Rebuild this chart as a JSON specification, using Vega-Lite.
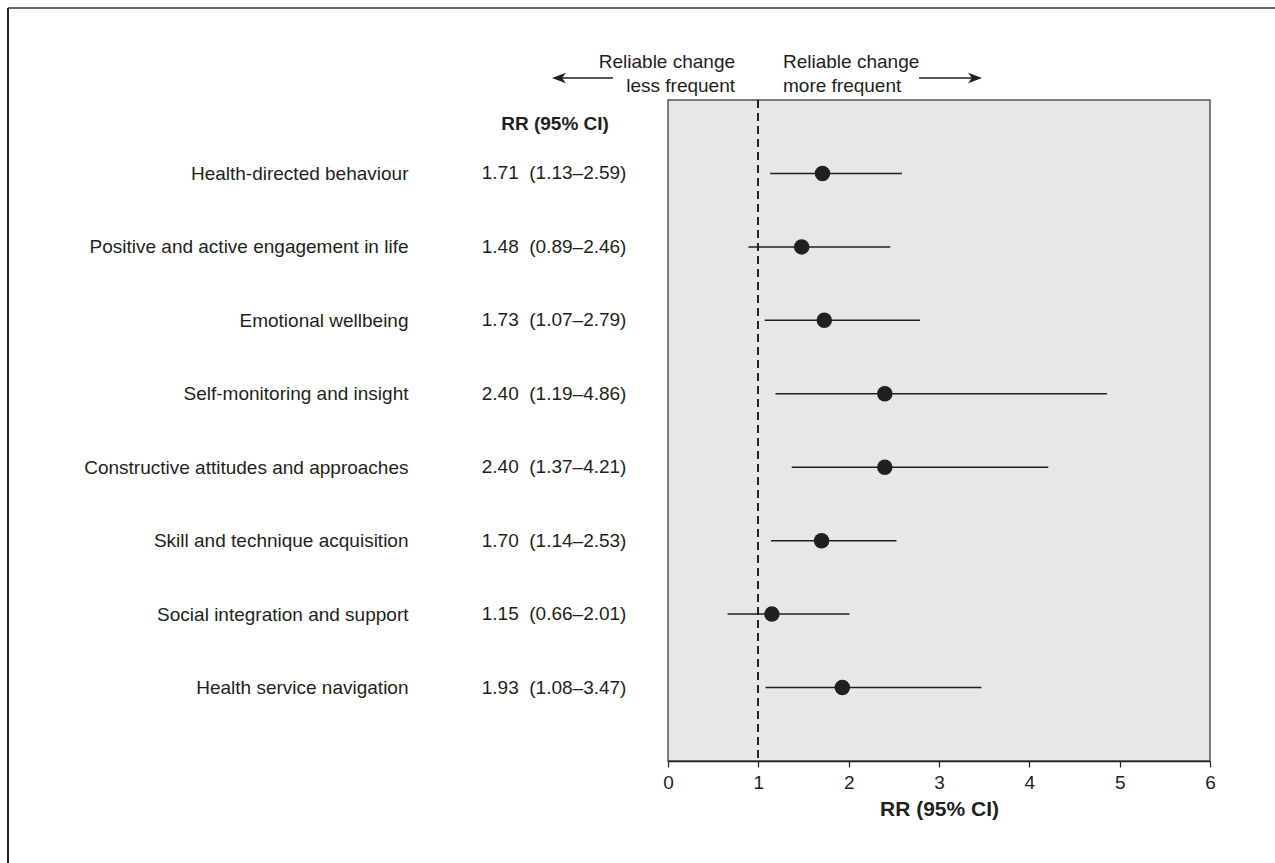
{
  "$schema": "https://vega.github.io/schema/vega-lite/v6.json",
  "autosize": "none",
  "padding": {"left": 668, "top": 100, "right": 65, "bottom": 102},
  "width": 542,
  "height": 661,
  "background": "white",
  "config": {
    "font": "Liberation Sans",
    "view": {"fill": "#e6e7e8", "stroke": "#555555", "strokeWidth": 1.5},
    "text": {"font": "Liberation Sans", "fontSize": 19, "color": "#231f20"}
  },
  "data": {
    "values": [
      {"name": "Health-directed behaviour", "rr": 1.71, "lo": 1.13, "hi": 2.59, "label": "1.71\u00a0\u00a0(1.13–2.59)"},
      {"name": "Positive and active engagement in life", "rr": 1.48, "lo": 0.89, "hi": 2.46, "label": "1.48\u00a0\u00a0(0.89–2.46)"},
      {"name": "Emotional wellbeing", "rr": 1.73, "lo": 1.07, "hi": 2.79, "label": "1.73\u00a0\u00a0(1.07–2.79)"},
      {"name": "Self-monitoring and insight", "rr": 2.40, "lo": 1.19, "hi": 4.86, "label": "2.40\u00a0\u00a0(1.19–4.86)"},
      {"name": "Constructive attitudes and approaches", "rr": 2.40, "lo": 1.37, "hi": 4.21, "label": "2.40\u00a0\u00a0(1.37–4.21)"},
      {"name": "Skill and technique acquisition", "rr": 1.70, "lo": 1.14, "hi": 2.53, "label": "1.70\u00a0\u00a0(1.14–2.53)"},
      {"name": "Social integration and support", "rr": 1.15, "lo": 0.66, "hi": 2.01, "label": "1.15\u00a0\u00a0(0.66–2.01)"},
      {"name": "Health service navigation", "rr": 1.93, "lo": 1.08, "hi": 3.47, "label": "1.93\u00a0\u00a0(1.08–3.47)"}
    ]
  },
  "layer": [
    {
      "mark": {"type": "rule", "color": "#231f20", "strokeWidth": 1.3, "strokeDash": [8, 5]},
      "encoding": {
        "x": {"datum": 1, "type": "quantitative", "scale": {"domain": [0, 6], "nice": false, "zero": false}}
      }
    },
    {
      "mark": {"type": "rule", "color": "#231f20", "strokeWidth": 1.5},
      "encoding": {
        "y": {"field": "name", "type": "nominal", "sort": null, "scale": {"type": "point", "padding": 1},
          "axis": {"title": null, "ticks": false, "domain": false, "labelPadding": 260, "labelFontSize": 19, "labelLimit": 500, "labelColor": "#231f20", "labelFont": "Liberation Sans"}},
        "x": {"field": "lo", "type": "quantitative", "scale": {"domain": [0, 6], "nice": false, "zero": false},
          "axis": {"values": [0, 1, 2, 3, 4, 5, 6], "format": "d", "labelFlush": false, "grid": false, "tickSize": 6, "tickColor": "#231f20", "domainColor": "#231f20", "domainWidth": 1.5, "tickWidth": 1.2, "labelFontSize": 19, "labelPadding": 6, "labelColor": "#231f20", "labelFont": "Liberation Sans", "title": "RR (95% CI)", "titleFontSize": 21, "titleFontWeight": "bold", "titleColor": "#231f20", "titleFont": "Liberation Sans", "titlePadding": 6}},
        "x2": {"field": "hi"}
      }
    },
    {
      "mark": {"type": "circle", "color": "#231f20", "opacity": 1, "size": 240},
      "encoding": {
        "y": {"field": "name", "type": "nominal", "sort": null},
        "x": {"field": "rr", "type": "quantitative"}
      }
    },
    {
      "mark": {"type": "text", "align": "right", "baseline": "middle"},
      "encoding": {
        "y": {"field": "name", "type": "nominal", "sort": null},
        "x": {"datum": -0.46, "type": "quantitative"},
        "text": {"field": "label"}
      }
    },
    {
      "data": {"values": [{"header": "RR (95% CI)"}]},
      "mark": {"type": "text", "align": "center", "baseline": "middle", "fontWeight": "bold"},
      "encoding": {
        "x": {"datum": -1.25, "type": "quantitative"},
        "y": {"value": 24},
        "text": {"field": "header"}
      }
    },
    {
      "data": {"values": [{"t": ["Reliable change", "less frequent"]}]},
      "mark": {"type": "text", "align": "right", "baseline": "alphabetic", "lineHeight": 24},
      "encoding": {
        "x": {"datum": 0.742, "type": "quantitative"},
        "y": {"value": -32},
        "text": {"field": "t"}
      }
    },
    {
      "data": {"values": [{"t": ["Reliable change", "more frequent"]}]},
      "mark": {"type": "text", "align": "left", "baseline": "alphabetic", "lineHeight": 24},
      "encoding": {
        "x": {"datum": 1.273, "type": "quantitative"},
        "y": {"value": -32},
        "text": {"field": "t"}
      }
    },
    {
      "data": {"values": [{"a": "left"}]},
      "mark": {"type": "rule", "color": "#231f20", "strokeWidth": 1.5},
      "encoding": {
        "x": {"datum": -1.24, "type": "quantitative"},
        "x2": {"datum": -0.609},
        "y": {"value": -22}
      }
    },
    {
      "data": {"values": [{"a": "right"}]},
      "mark": {"type": "rule", "color": "#231f20", "strokeWidth": 1.5},
      "encoding": {
        "x": {"datum": 2.779, "type": "quantitative"},
        "x2": {"datum": 3.44},
        "y": {"value": -22}
      }
    },
    {
      "data": {"values": [{"a": "left"}]},
      "mark": {"type": "point", "filled": true, "color": "#231f20", "opacity": 1, "size": 196, "shape": "M-1,0L1,-0.75L0.45,0L1,0.75Z"},
      "encoding": {
        "x": {"datum": -1.207, "type": "quantitative"},
        "y": {"value": -22}
      }
    },
    {
      "data": {"values": [{"a": "right"}]},
      "mark": {"type": "point", "filled": true, "color": "#231f20", "opacity": 1, "size": 196, "shape": "M1,0L-1,-0.75L-0.45,0L-1,0.75Z"},
      "encoding": {
        "x": {"datum": 3.399, "type": "quantitative"},
        "y": {"value": -22}
      }
    },
    {
      "data": {"values": [{"f": "top"}]},
      "mark": {"type": "rule", "color": "#333333", "strokeWidth": 1.5},
      "encoding": {
        "x": {"value": -660},
        "x2": {"value": 620},
        "y": {"value": -92}
      }
    },
    {
      "data": {"values": [{"f": "left"}]},
      "mark": {"type": "rule", "color": "#222222", "strokeWidth": 2},
      "encoding": {
        "x": {"value": -660},
        "y": {"value": -92},
        "y2": {"value": 770}
      }
    }
  ]
}
